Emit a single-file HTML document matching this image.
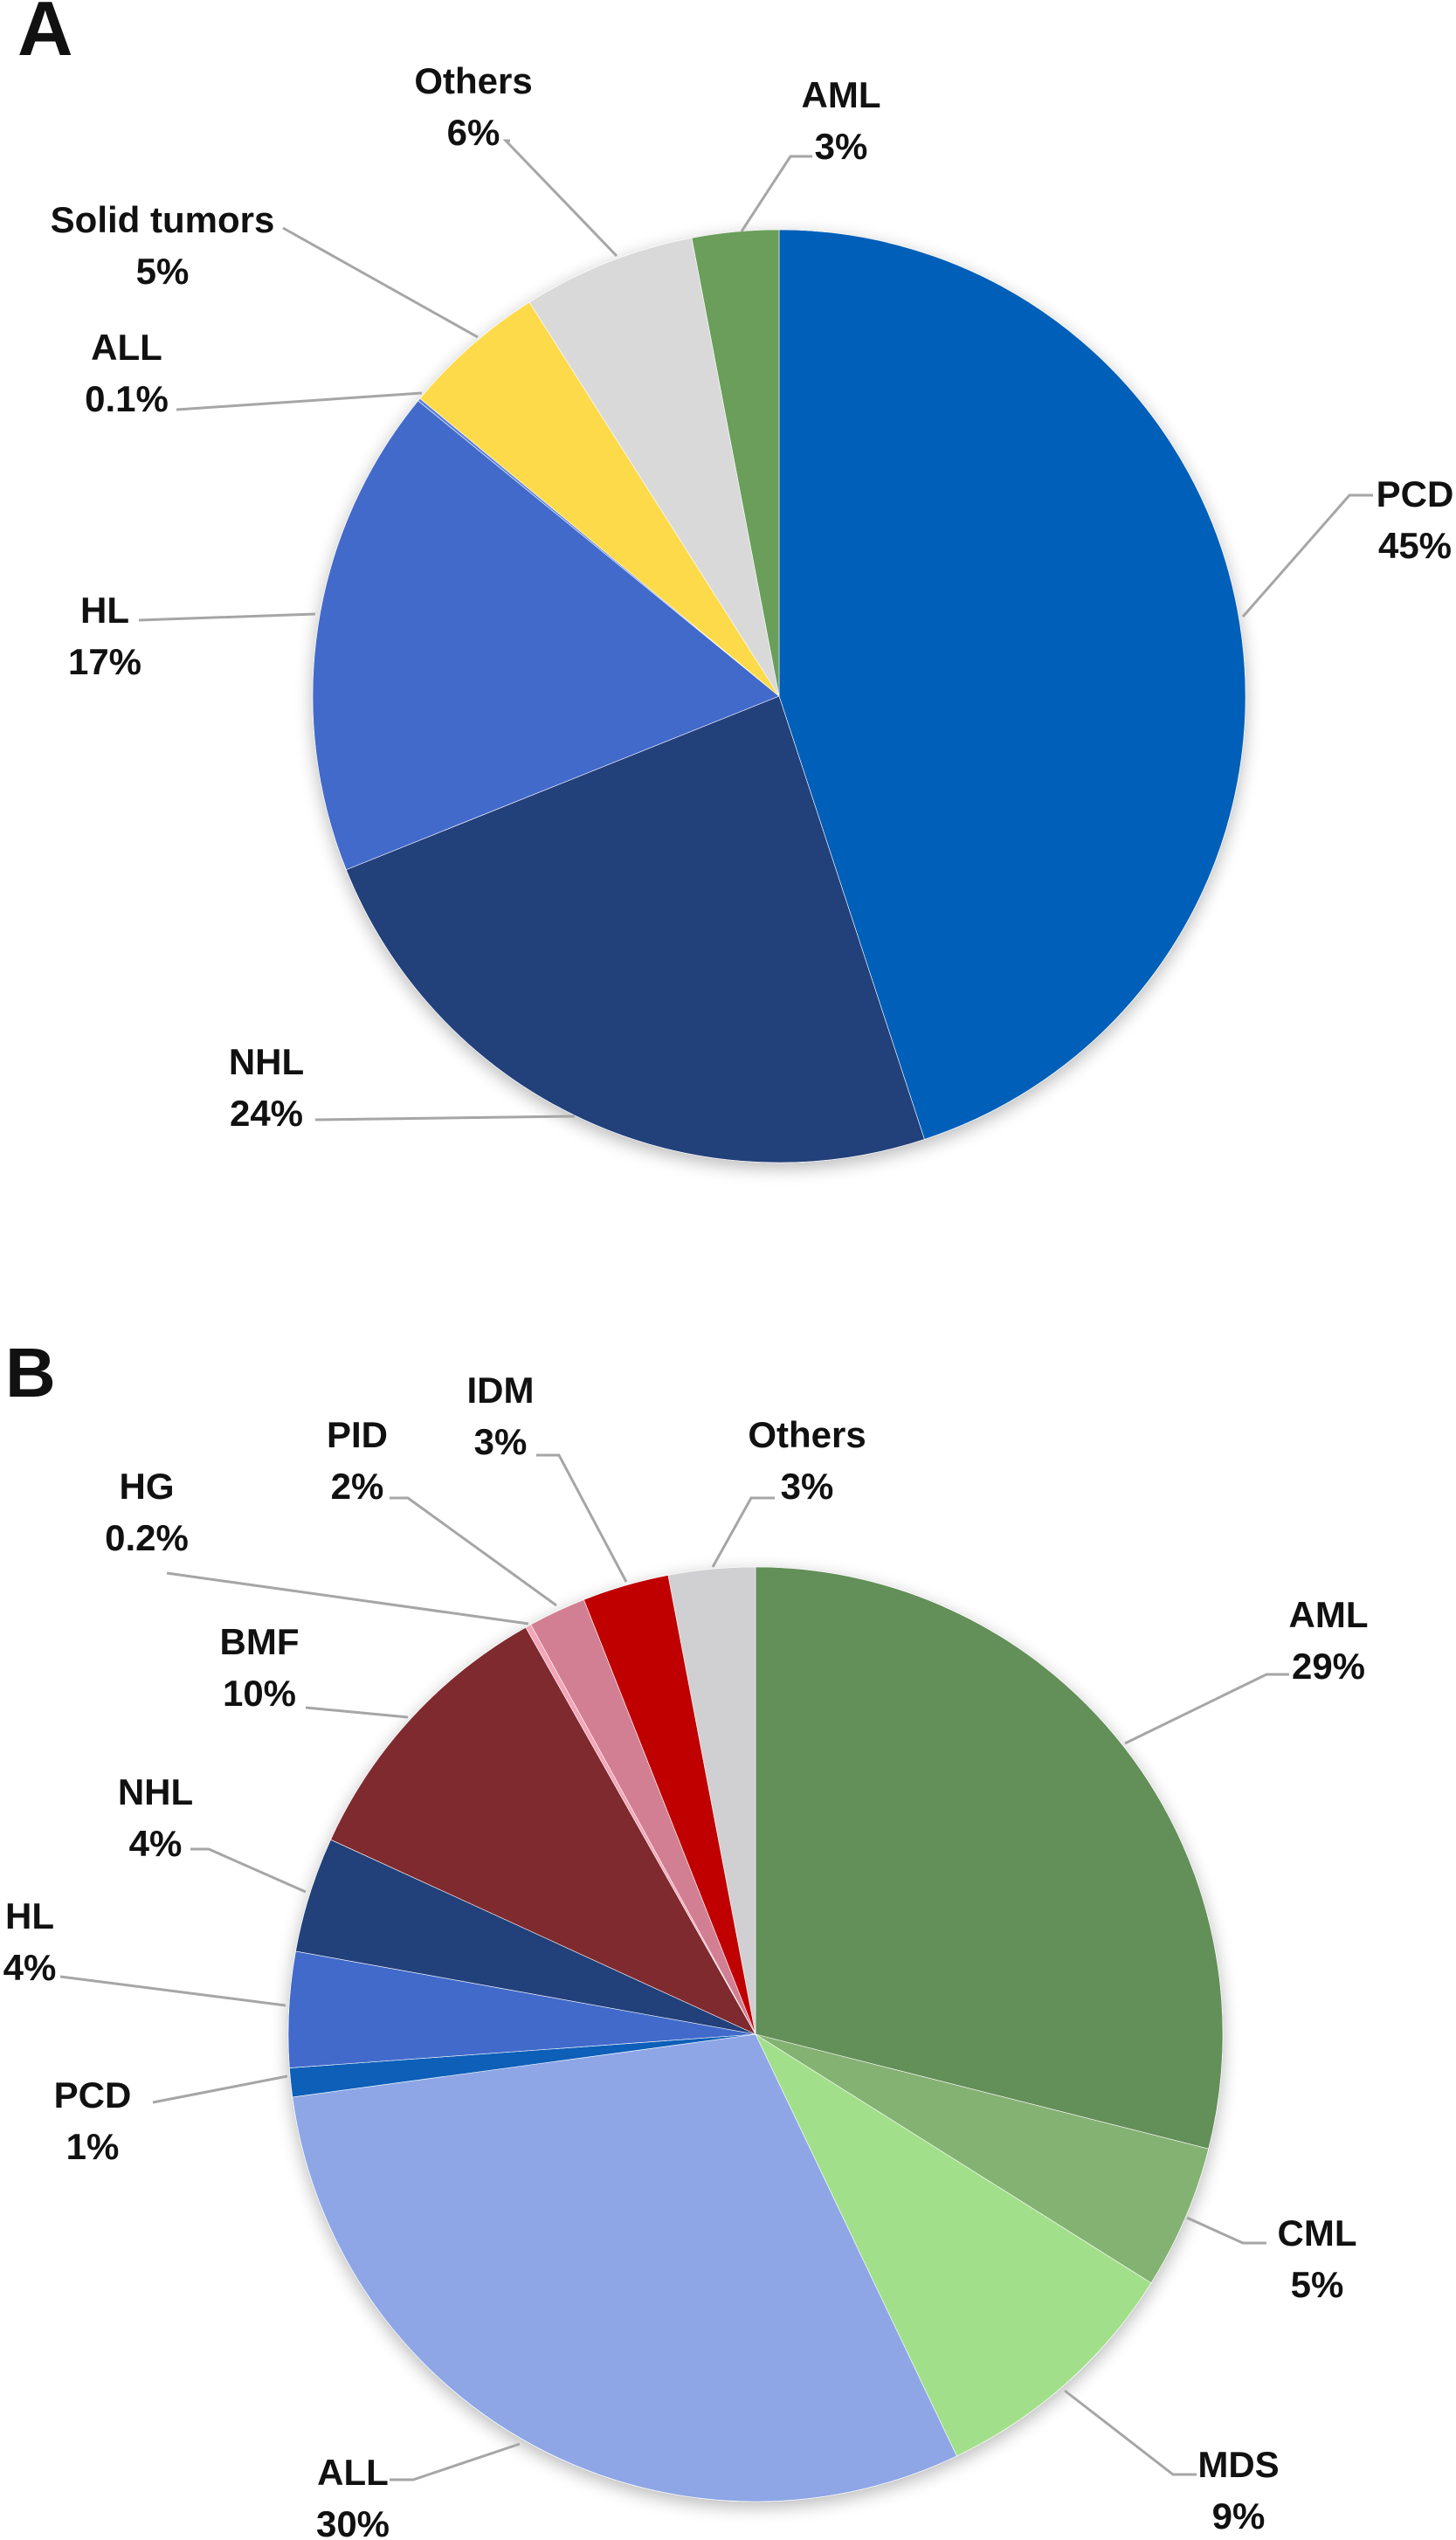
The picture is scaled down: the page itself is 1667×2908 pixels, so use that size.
<!DOCTYPE html>
<html>
<head>
<meta charset="utf-8">
<style>
html,body{margin:0;padding:0;background:#fff;}
svg{display:block;}
text{font-family:"Liberation Sans",sans-serif;font-weight:bold;fill:#111;}
</style>
</head>
<body>
<svg id="chart" width="1667" height="2908" viewBox="0 0 1667 2908" xmlns="http://www.w3.org/2000/svg">
<defs>
<filter id="shadow" x="-10%" y="-10%" width="120%" height="120%">
<feGaussianBlur in="SourceAlpha" stdDeviation="10"/>
<feOffset dx="0" dy="6" result="b"/>
<feComponentTransfer><feFuncA type="linear" slope="0.28"/></feComponentTransfer>
<feMerge><feMergeNode/><feMergeNode in="SourceGraphic"/></feMerge>
</filter>
</defs>
<text x="20" y="63" font-size="88">A</text>
<text x="6" y="1599" font-size="80">B</text>
<g id="pieA"></g>
<g id="pieB"></g>
</svg>
<script>
// Panel A data
const catsA = ["PCD","NHL","HL","ALL","Solid tumors","Others","AML"];
const valsA = [45,24,17,0.1,5,6,3];
const colorsA = ["#005EB8","#223F7A","#426BCB","#5B7FD6","#FDDA4A","#D9D9D9","#6A9E5A"];
// Panel B data
const catsB = ["AML","CML","MDS","ALL","PCD","HL","NHL","BMF","HG","PID","IDM","Others"];
const valsB = [29,5,9,30,1,4,4,10,0.2,2,3,3];
const colorsB = ["#648F58","#83B272","#A2DF8A","#8EA6E6","#0A5EB8","#426BCB","#223F7A","#7F2A2F","#F4A6B8","#D27F93","#C00000","#D0CFD1"];

// layout (label centre and leader line points), not data
const layoutA = [
 {x:1620,y:565,line:[[1572,567],[1545,567],[1423,706]]},
 {x:305,y:1215,line:[[361,1282],[658,1278]]},
 {x:120,y:698,line:[[159,710],[361,703]]},
 {x:145,y:397,line:[[202,469],[483,450]]},
 {x:186,y:251,line:[[324,261],[547,386]]},
 {x:542,y:92,line:[[584,161],[579,161],[706,293]]},
 {x:963,y:108,line:[[930,179],[905,179],[849,265]]}
];
const layoutB = [
 {x:1521,y:1848,line:[[1476,1917],[1450,1917],[1288,1996]]},
 {x:1508,y:2556,line:[[1450,2568],[1423,2568],[1359,2539]]},
 {x:1418,y:2821,line:[[1370,2833],[1343,2833],[1219,2737]]},
 {x:404,y:2830,line:[[446,2839],[473,2839],[595,2798]]},
 {x:106,y:2398,line:[[175,2407],[329,2377]]},
 {x:34,y:2193,line:[[69,2263],[327,2296]]},
 {x:178,y:2051,line:[[218,2117],[239,2117],[350,2166]]},
 {x:297,y:1879,line:[[350,1955],[467,1966]]},
 {x:168,y:1701,line:[[191,1801],[605,1859]]},
 {x:409,y:1642,line:[[446,1715],[467,1715],[637,1838]]},
 {x:573,y:1591,line:[[614,1666],[640,1666],[717,1811]]},
 {x:924,y:1642,line:[[887,1715],[860,1715],[816,1794]]}
];

const NS = "http://www.w3.org/2000/svg";
function angleScale(vals){
  const total = vals.reduce((a,b)=>a+b,0);
  return v => v/total*2*Math.PI;
}
function pt(cx,cy,r,a){ return [cx + r*Math.sin(a), cy - r*Math.cos(a)]; }

function drawPie(gid, cats, vals, colors, layout, cx, cy, r, prefix){
  const g = document.getElementById(gid);
  const scale = angleScale(vals);
  const sg = document.createElementNS(NS,"g");
  sg.setAttribute("filter","url(#shadow)");
  g.appendChild(sg);
  let a0 = 0;
  vals.forEach((v,i)=>{
    const a1 = a0 + scale(v);
    const p0 = pt(cx,cy,r,a0), p1 = pt(cx,cy,r,a1);
    const large = (a1-a0) > Math.PI ? 1 : 0;
    const path = document.createElementNS(NS,"path");
    path.setAttribute("d",`M${cx},${cy} L${p0[0]},${p0[1]} A${r},${r} 0 ${large} 1 ${p1[0]},${p1[1]} Z`);
    path.setAttribute("fill",colors[i]);
    path.setAttribute("stroke","#fff");
    path.setAttribute("stroke-width","0.6");
    
    
    sg.appendChild(path);
    a0 = a1;
  });
  vals.forEach((v,i)=>{
    const L = layout[i];
    const pl = document.createElementNS(NS,"polyline");
    pl.setAttribute("points", L.line.map(p=>p.join(",")).join(" "));
    pl.setAttribute("fill","none");
    pl.setAttribute("stroke","#A6A6A6");
    pl.setAttribute("stroke-width","3");
    
    
    g.appendChild(pl);
    const t1 = document.createElementNS(NS,"text");
    t1.setAttribute("x",L.x); t1.setAttribute("y",L.y+15);
    t1.setAttribute("text-anchor","middle"); t1.setAttribute("font-size","42");
    t1.textContent = cats[i];
    
    
    g.appendChild(t1);
    const t2 = document.createElementNS(NS,"text");
    t2.setAttribute("x",L.x); t2.setAttribute("y",L.y+15+59);
    t2.setAttribute("text-anchor","middle"); t2.setAttribute("font-size","42");
    t2.textContent = v + "%";
    
    
    g.appendChild(t2);
  });
}
drawPie("pieA", catsA, valsA, colorsA, layoutA, 892, 797, 534, "a");
drawPie("pieB", catsB, valsB, colorsB, layoutB, 865, 2329, 535, "b");
</script>
</body>
</html>
